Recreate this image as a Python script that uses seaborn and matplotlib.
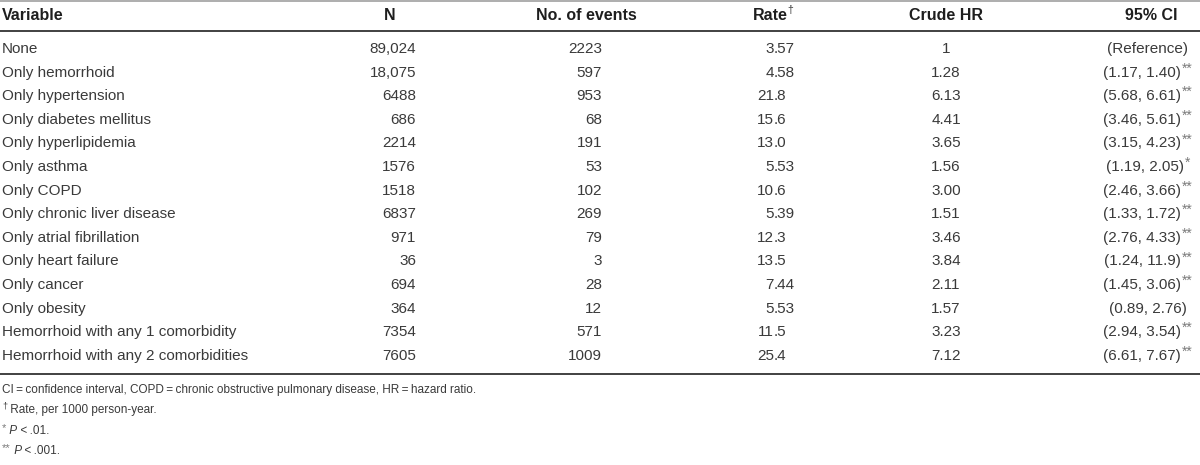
import matplotlib
matplotlib.use('Agg')
import matplotlib.pyplot as plt
import seaborn as sns

# table content
headers = ['Variable', 'N', 'No. of events', 'Rate', 'Crude HR', '95% CI']
variables = ['None', 'Only hemorrhoid', 'Only hypertension', 'Only diabetes mellitus',
             'Only hyperlipidemia', 'Only asthma', 'Only COPD', 'Only chronic liver disease',
             'Only atrial fibrillation', 'Only heart failure', 'Only cancer', 'Only obesity',
             'Hemorrhoid with any 1 comorbidity', 'Hemorrhoid with any 2 comorbidities']
n_values = ['89,024', '18,075', '6488', '686', '2214', '1576', '1518', '6837', '971',
            '36', '694', '364', '7354', '7605']
events = ['2223', '597', '953', '68', '191', '53', '102', '269', '79', '3', '28', '12',
          '571', '1009']
rates = ['3.57', '4.58', '21.8', '15.6', '13.0', '5.53', '10.6', '5.39', '12.3', '13.5',
         '7.44', '5.53', '11.5', '25.4']
crude_hr = ['1', '1.28', '6.13', '4.41', '3.65', '1.56', '3.00', '1.51', '3.46', '3.84',
            '2.11', '1.57', '3.23', '7.12']
ci = ['(Reference)', '(1.17, 1.40)', '(5.68, 6.61)', '(3.46, 5.61)', '(3.15, 4.23)',
      '(1.19, 2.05)', '(2.46, 3.66)', '(1.33, 1.72)', '(2.76, 4.33)', '(1.24, 11.9)',
      '(1.45, 3.06)', '(0.89, 2.76)', '(2.94, 3.54)', '(6.61, 7.67)']
ci_marks = ['', '**', '**', '**', '**', '*', '**', '**', '**', '**', '**', '', '**', '**']
footnotes = ['CI\u2009=\u2009confidence interval, COPD\u2009=\u2009chronic obstructive pulmonary disease, HR\u2009=\u2009hazard ratio.',
             ' Rate, per 1000 person-year.']

sns.set_theme(style='white')
plt.rcParams['font.family'] = ['Liberation Sans', 'DejaVu Sans']

fs = 11
txt = '#3a3a3a'
hdr = '#1e1e1e'
star = '#7a7a7a'

fig = plt.figure(figsize=(12, 4.65), dpi=100)
ax = fig.add_axes([0, 0, 1, 1])
ax.set_xlim(0, 1200)
ax.set_ylim(465, 0)
ax.axis('off')
renderer = fig.canvas.get_renderer()


def width(t):
    return t.get_window_extent(renderer=renderer).width


def runs(x, y, parts):
    # draw pieces of text one after another: (text, size, style, dy, color)
    for s, size, style, dy, col in parts:
        t = ax.text(x, y + dy, s, fontsize=size, fontstyle=style,
                    color=col, ha='left', va='center')
        x += width(t)
    return x


# rules
ax.plot([0, 1200], [1, 1], color='#a0a0a0', lw=1.2)
ax.plot([0, 1200], [31, 31], color='#333333', lw=1.3)
ax.plot([0, 1200], [374, 374], color='#333333', lw=1.3)

# header
hy = 15
ax.text(2, hy, headers[0], fontsize=11.5, fontweight='bold', color=hdr, ha='left', va='center')
ax.text(390, hy, headers[1], fontsize=11.5, fontweight='bold', color=hdr, ha='center', va='center')
ax.text(586, hy, headers[2], fontsize=11.5, fontweight='bold', color=hdr, ha='center', va='center')
t = ax.text(770, hy, headers[3], fontsize=11.5, fontweight='bold', color=hdr, ha='center', va='center')
ax.text(770 + width(t) / 2, hy - 5, '\u2020', fontsize=7.5, color=txt, ha='left', va='center')
ax.text(946, hy, headers[4], fontsize=11.5, fontweight='bold', color=hdr, ha='center', va='center')
ax.text(1151, hy, headers[5], fontsize=11.5, fontweight='bold', color=hdr, ha='center', va='center')

# body
y0, step = 49, 23.6
for i in range(len(variables)):
    y = y0 + i * step
    ax.text(2, y, variables[i], fontsize=fs, color=txt, ha='left', va='center')
    ax.text(416, y, n_values[i], fontsize=fs, color=txt, ha='right', va='center')
    ax.text(602, y, events[i], fontsize=fs, color=txt, ha='right', va='center')
    whole, frac = rates[i].split('.')
    ax.text(774, y, whole, fontsize=fs, color=txt, ha='right', va='center')
    ax.text(774, y, '.' + frac, fontsize=fs, color=txt, ha='left', va='center')
    ax.text(946, y, crude_hr[i], fontsize=fs, color=txt, ha='center', va='center')
    t = ax.text(0, y, ci[i], fontsize=fs, color=txt, ha='left', va='center')
    w = width(t)
    sw = 0
    if ci_marks[i]:
        s = ax.text(0, y - 4, ci_marks[i], fontsize=10, color=star, ha='left', va='center')
        sw = width(s) + 1
        s.set_x(1148 - (w + sw) / 2 + w + 1)
    t.set_x(1148 - (w + sw) / 2)

# footnotes
fy = [390, 410, 431, 451]
fn = 8.5
runs(2, fy[0], [(footnotes[0], fn, 'normal', 0, txt)])
runs(2, fy[1], [('\u2020', 6.5, 'normal', -4, txt), (footnotes[1], fn, 'normal', 0, txt)])
runs(2, fy[2], [('*', 8, 'normal', -3, star), (' P', fn, 'italic', 0, txt), ('\u2009<\u2009.01.', fn, 'normal', 0, txt)])
runs(2, fy[3], [('**', 8, 'normal', -3, star), (' P', fn, 'italic', 0, txt), ('\u2009<\u2009.001.', fn, 'normal', 0, txt)])

fig.savefig('out.png', dpi=100)
